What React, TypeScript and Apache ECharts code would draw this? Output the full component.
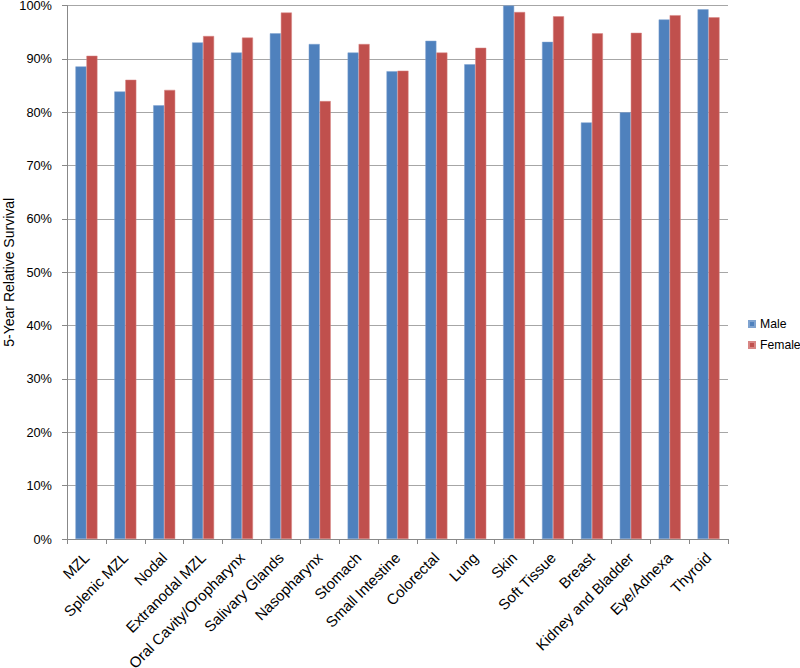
import React, { useEffect, useRef } from "react";
import * as echarts from "echarts";

const categories = [
  "MZL", "Splenic MZL", "Nodal", "Extranodal MZL", "Oral Cavity/Oropharynx",
  "Salivary Glands", "Nasopharynx", "Stomach", "Small Intestine", "Colorectal",
  "Lung", "Skin", "Soft Tissue", "Breast", "Kidney and Bladder", "Eye/Adnexa", "Thyroid",
];
const male = [88.6, 83.9, 81.3, 93.1, 91.2, 94.8, 92.8, 91.2, 87.7, 93.4, 89.0, 100.0, 93.2, 78.1, 80.0, 97.4, 99.3];
const female = [90.6, 86.1, 84.2, 94.3, 94.0, 98.7, 82.1, 92.8, 87.8, 91.2, 92.1, 98.8, 98.0, 94.8, 94.9, 98.2, 97.8];
const yTicks = { min: 0, max: 100, interval: 10 };

const FONT = "Liberation Sans, Arial, sans-serif";

export default function App() {
  const ref = useRef<HTMLDivElement>(null);
  useEffect(() => {
    document.body.style.margin = "0";
    document.documentElement.style.overflow = "hidden";
    if (!ref.current) return;
    const chart = echarts.init(ref.current, undefined, { renderer: "svg" });
    chart.setOption({
      animation: false,
      textStyle: { fontFamily: FONT },
      grid: { left: 67, right: 72, top: 5.6, bottom: 129, containLabel: false, outerBoundsMode: "none" },
      legend: {
        orient: "vertical",
        left: 748,
        top: 318,
        padding: 0,
        itemWidth: 6,
        itemHeight: 6,
        itemGap: 9,
        icon: "rect",
        textStyle: { fontFamily: FONT, fontSize: 12.2, color: "#000" },
        data: ["Male", "Female"],
      },
      xAxis: {
        type: "category",
        data: categories,
        axisLine: { lineStyle: { color: "#888", width: 1 } },
        axisTick: { show: true, length: 5, lineStyle: { color: "#888" } },
        axisLabel: {
          rotate: 45,
          interval: 0,
          margin: 16,
          hideOverlap: false,
          fontFamily: FONT,
          fontSize: 15,
          color: "#000",
        },
      },
      yAxis: {
        type: "value",
        min: yTicks.min,
        max: yTicks.max,
        interval: yTicks.interval,
        name: "5-Year Relative Survival",
        nameLocation: "middle",
        nameRotate: 90,
        nameGap: 51,
        nameMoveOverlap: false,
        nameTextStyle: { fontFamily: FONT, fontSize: 14, color: "#000" },
        axisLine: { show: true, lineStyle: { color: "#888", width: 1 } },
        axisTick: { show: true, length: 5, lineStyle: { color: "#888" } },
        axisLabel: {
          formatter: "{value}%",
          margin: 15,
          fontFamily: FONT,
          fontSize: 12.8,
          color: "#000",
        },
        splitLine: { show: true, lineStyle: { color: "#A6A6A6", width: 1 } },
      },
      series: [
        {
          name: "Male",
          type: "bar",
          data: male,
          barWidth: 11,
          barGap: "0%",
          itemStyle: { color: "#4F81BD", borderColor: "#7FA3D0", borderWidth: 0.5 },
        },
        {
          name: "Female",
          type: "bar",
          data: female,
          barWidth: 11,
          barGap: "0%",
          itemStyle: { color: "#C0504D", borderColor: "#D88684", borderWidth: 0.5 },
        },
      ],
    });
    return () => chart.dispose();
  }, []);
  return <div ref={ref} style={{ width: 800, height: 668 }} />;
}
